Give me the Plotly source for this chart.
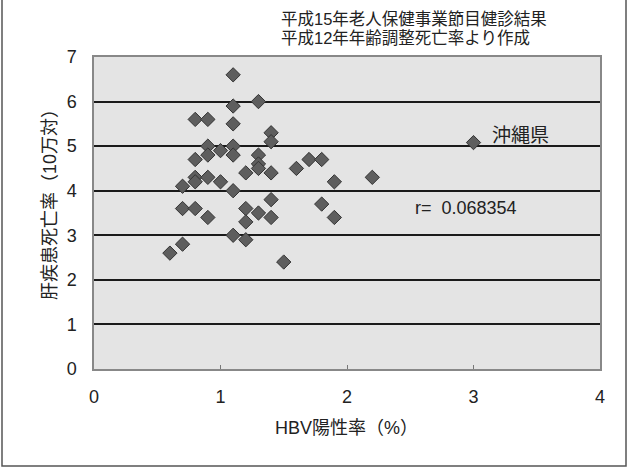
import plotly.graph_objects as go

# HBV positive rate (%) and liver disease mortality (per 100k) by prefecture
hbv = [1.1, 1.3, 1.1, 0.8, 0.9, 1.1, 1.4, 1.4, 3.0, 0.9,
       1.0, 1.1, 0.9, 1.1, 0.8, 1.3, 1.3, 1.3, 1.7, 1.8,
       1.6, 1.2, 1.4, 0.8, 0.9, 0.8, 1.0, 0.7, 1.1, 1.9,
       2.2, 1.4, 1.8, 0.7, 0.8, 1.2, 1.3, 0.9, 1.4, 1.9,
       1.2, 1.1, 1.2, 0.7, 0.6, 1.5]
mortality = [6.6, 6.0, 5.9, 5.6, 5.6, 5.5, 5.3, 5.1, 5.08, 5.0,
             4.9, 5.0, 4.8, 4.8, 4.7, 4.8, 4.6, 4.5, 4.7, 4.7,
             4.5, 4.4, 4.4, 4.3, 4.3, 4.2, 4.2, 4.1, 4.0, 4.2,
             4.3, 3.8, 3.7, 3.6, 3.6, 3.6, 3.5, 3.4, 3.4, 3.4,
             3.3, 3.0, 2.9, 2.8, 2.6, 2.4]

x_ticks = [0, 1, 2, 3, 4]
y_ticks = [0, 1, 2, 3, 4, 5, 6, 7]

title_lines = ["平成15年老人保健事業節目健診結果", "平成12年年齢調整死亡率より作成"]
x_title = "HBV陽性率（%）"
y_title = "肝疾患死亡率（10万対）"
okinawa_label = "沖縄県"
r_label = "r=  0.068354"

FONT = "Liberation Sans, Noto Sans CJK JP, sans-serif"

fig = go.Figure()
fig.add_trace(go.Scatter(
    x=hbv, y=mortality, mode="markers",
    marker=dict(symbol="diamond", size=11, color="#5e5e5e",
                line=dict(color="#333333", width=1)),
    showlegend=False, hoverinfo="x+y",
))

L, R, T, B = 94, 29, 57, 99
W, H = 629, 468
pw, ph = W - L - R, H - T - B

def px(xp):
    return (xp - L) / pw

def py(yp):
    return (H - B - yp) / ph

fig.update_layout(
    width=W, height=H,
    margin=dict(l=L, r=R, t=T, b=B),
    paper_bgcolor="white",
    plot_bgcolor="#e4e4e4",
    font=dict(family=FONT, size=18, color="#222222"),
    xaxis=dict(range=[0, 4], tickvals=x_ticks, ticks="inside", ticklen=4,
               tickcolor="#777", showgrid=False, zeroline=False,
               showline=True, linecolor="#888", linewidth=1.5, mirror=True,
               ticklabelstandoff=11, tickfont=dict(size=18)),
    yaxis=dict(range=[0, 7], tickvals=y_ticks, ticks="", showgrid=True,
               gridcolor="#1a1a1a", gridwidth=1.6, zeroline=False,
               showline=True, linecolor="#888", linewidth=1.5, mirror=True,
               ticklabelstandoff=12, tickfont=dict(size=18)),
)

annotations = [
    dict(text=title_lines[0], xref="paper", yref="paper", x=px(279), y=py(19),
         xanchor="left", yanchor="middle", showarrow=False, font=dict(size=16.5)),
    dict(text=title_lines[1], xref="paper", yref="paper", x=px(279), y=py(38),
         xanchor="left", yanchor="middle", showarrow=False, font=dict(size=16.5)),
    dict(text=x_title, xref="paper", yref="paper", x=px(346), y=py(428),
         xanchor="center", yanchor="middle", showarrow=False, font=dict(size=18)),
    dict(text=y_title, xref="paper", yref="paper", x=px(50), y=py(200),
         xanchor="center", yanchor="middle", textangle=-90, showarrow=False,
         font=dict(size=18)),
    dict(text=okinawa_label, xref="x", yref="y", x=3.13, y=5.25,
         xanchor="left", yanchor="middle", showarrow=False, font=dict(size=19)),
    dict(text=r_label, xref="x", yref="y", x=2.52, y=3.62,
         xanchor="left", yanchor="middle", showarrow=False, font=dict(size=18)),
]
fig.update_layout(annotations=annotations)

# outer frame around the whole figure (left, right, bottom)
fig.add_shape(type="rect", xref="paper", yref="paper",
              x0=px(2), x1=px(626), y0=py(466), y1=py(-10),
              line=dict(color="#555555", width=1.5), fillcolor="rgba(0,0,0,0)",
              layer="below")

fig.write_html("out.html")
